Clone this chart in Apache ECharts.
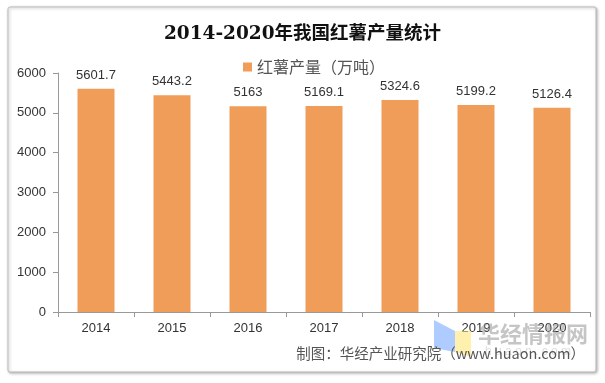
<!DOCTYPE html>
<html><head><meta charset="utf-8">
<script src="https://cdn.jsdelivr.net/npm/echarts@6/dist/echarts.min.js"></script>
<style>html,body{margin:0;padding:0;background:#fff}#c{width:605px;height:383px}</style>
</head><body><div id="c"></div>
<script>
const categories = ['2014','2015','2016','2017','2018','2019','2020'];
const values = [5601.7, 5443.2, 5163, 5169.1, 5324.6, 5199.2, 5126.4];
const seriesName = '红薯产量（万吨）';
const titleText = '2014-2020年我国红薯产量统计';
const sourceText = '制图：华经产业研究院（www.huaon.com）';

const chart = echarts.init(document.getElementById('c'));
chart.setOption({
  animation: false,
  backgroundColor: '#fff',
  title: {
    text: titleText, left: 'center', top: 20,
    textStyle: {fontFamily: 'DejaVu Serif, "Noto Sans CJK SC"', fontWeight: 'bold', fontSize: 18.5, color: '#111'}
  },
  legend: {
    data: [seriesName], top: 54, left: 238, itemWidth: 9, itemHeight: 9, icon: 'rect', itemGap: 4,
    textStyle: {fontSize: 16, color: '#555', fontFamily: '"Noto Sans CJK SC", sans-serif'}
  },
  grid: {left: 58, right: 15, top: 73, bottom: 71},
  xAxis: {
    type: 'category', data: categories,
    axisLine: {lineStyle: {color: '#999'}},
    axisTick: {show: true, length: 5, lineStyle: {color: '#999'}},
    axisLabel: {color: '#333', fontSize: 13, fontFamily: 'Liberation Sans, Arial', margin: 10}
  },
  yAxis: {
    type: 'value', min: 0, max: 6000, interval: 1000,
    splitLine: {show: false},
    axisLine: {show: true, lineStyle: {color: '#999'}},
    axisTick: {show: true, length: 5, lineStyle: {color: '#999'}},
    axisLabel: {color: '#333', fontSize: 13, fontFamily: 'Liberation Sans, Arial', margin: 12, formatter: v => String(v)}
  },
  series: [{
    name: seriesName, type: 'bar', data: values, barWidth: 37,
    itemStyle: {color: '#F09D5A'},
    label: {show: true, position: 'top', distance: 7, color: '#333', fontSize: 13, fontFamily: 'Liberation Sans, Arial'}
  }],
  graphic: [
    {type: 'rect', shape: {x: 8, y: 7, width: 588, height: 365, r: 2}, z: -10,
     style: {fill: '#fff', stroke: '#bbb', lineWidth: 1, shadowBlur: 3, shadowColor: 'rgba(0,0,0,0.3)', shadowOffsetX: 1, shadowOffsetY: 1}},
    {type: 'polygon', shape: {points: [[434,320],[455,331],[455,352],[434,348]]}, z: 10, style: {fill: 'rgba(120,170,255,0.6)'}},
    {type: 'polygon', shape: {points: [[455,331],[471,331],[471,357],[455,352]]}, z: 10, style: {fill: 'rgba(255,230,120,0.6)'}},
    {type: 'text', left: 478, top: 323, z: 10, style: {text: '华经情报网', fill: 'rgba(150,150,150,0.55)', fontSize: 22, fontWeight: 'bold', fontFamily: '"Noto Sans CJK SC"'}},
    {type: 'text', left: 485, top: 346, z: 10, style: {text: 'h u a o n . c o m', fill: 'rgba(190,190,190,0.5)', fontSize: 12, fontFamily: 'Liberation Sans'}},
    {type: 'text', right: 20, top: 346, z: 11, style: {text: sourceText, fill: '#555', fontSize: 14.5, fontFamily: '"Noto Sans CJK SC", sans-serif'}}
  ]
});
</script></body></html>
